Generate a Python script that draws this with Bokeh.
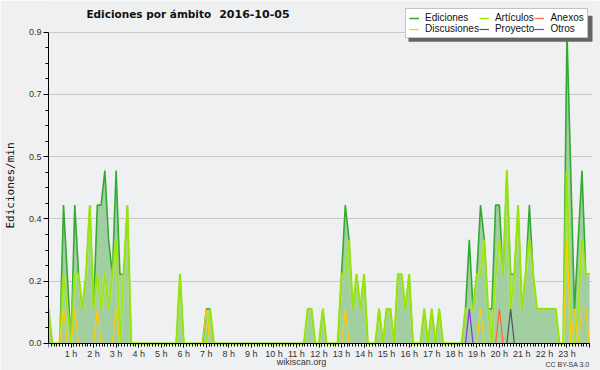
from bokeh.plotting import figure
from bokeh.models import (Range1d, FixedTicker, Legend, LegendItem, Label,
                          BoxAnnotation, ColumnDataSource)
from bokeh.embed import file_html
from bokeh.resources import INLINE

# ---------------- data (edits/min, one value per 10 minutes, 00:00 .. 24:00) ----------------
STEP_MIN = 10

ediciones = [
    0.1, 0, 0, 0, 0.4, 0.2,        # 0 h
    0, 0.4, 0.2, 0.1, 0.2, 0.4,    # 1 h
    0.1, 0.4, 0.4, 0.5, 0.3, 0.2,  # 2 h
    0.5, 0.2, 0.2, 0.4, 0, 0,      # 3 h
    0, 0, 0, 0, 0, 0,              # 4 h
    0, 0, 0, 0, 0, 0.2,            # 5 h
    0, 0, 0, 0, 0, 0,              # 6 h
    0.1, 0.1, 0, 0, 0, 0,          # 7 h
    0, 0, 0, 0, 0, 0,              # 8 h
    0, 0, 0, 0, 0, 0,              # 9 h
    0, 0, 0, 0, 0, 0,              # 10 h
    0, 0, 0, 0.1, 0.1, 0,          # 11 h
    0, 0.1, 0, 0, 0, 0,            # 12 h
    0.2, 0.4, 0.3, 0.1, 0.2, 0.1,  # 13 h
    0.2, 0, 0, 0, 0.1, 0,          # 14 h
    0.1, 0.1, 0, 0.2, 0.2, 0.1,    # 15 h
    0.2, 0, 0, 0, 0.1, 0,          # 16 h
    0.1, 0, 0.1, 0, 0, 0,          # 17 h
    0, 0, 0, 0.1, 0.3, 0.1,        # 18 h
    0.2, 0.4, 0.3, 0.1, 0.1, 0.4,  # 19 h
    0.4, 0.2, 0.5, 0.2, 0.2, 0.4,  # 20 h
    0.1, 0.2, 0.4, 0.2, 0.1, 0.1,  # 21 h
    0.1, 0.1, 0.1, 0.1, 0, 0,      # 22 h
    0.9, 0.5, 0.1, 0.3, 0.5, 0.2,  # 23 h
    0.2,
]

articulos = [
    0.1, 0, 0, 0, 0.2, 0.1,
    0, 0.2, 0.2, 0.1, 0.2, 0.4,
    0.1, 0.2, 0.1, 0.2, 0.1, 0.2,
    0.3, 0, 0.2, 0.4, 0, 0,
    0, 0, 0, 0, 0, 0,
    0, 0, 0, 0, 0, 0.2,
    0, 0, 0, 0, 0, 0,
    0, 0.1, 0, 0, 0, 0,
    0, 0, 0, 0, 0, 0,
    0, 0, 0, 0, 0, 0,
    0, 0, 0, 0, 0, 0,
    0, 0, 0, 0.1, 0.1, 0,
    0, 0.1, 0, 0, 0, 0,
    0.2, 0.2, 0.3, 0.1, 0.2, 0.1,
    0.2, 0, 0, 0, 0.1, 0,
    0.1, 0.1, 0, 0.2, 0.2, 0.1,
    0.2, 0, 0, 0, 0.1, 0,
    0.1, 0, 0.1, 0, 0, 0,
    0, 0, 0, 0.1, 0.1, 0.1,
    0.2, 0.2, 0.3, 0.1, 0, 0.2,
    0.3, 0.2, 0.5, 0.1, 0.2, 0.4,
    0.1, 0.2, 0.3, 0.2, 0.1, 0.1,
    0.1, 0.1, 0.1, 0.1, 0, 0,
    0.5, 0, 0, 0.1, 0.3, 0.2,
    0.2,
]

discusiones = [
    0, 0, 0, 0, 0.1, 0,
    0, 0.1, 0, 0, 0, 0,
    0, 0.1, 0, 0, 0, 0,
    0.1, 0, 0, 0, 0, 0,
    0, 0, 0, 0, 0, 0,
    0, 0, 0, 0, 0, 0,
    0, 0, 0, 0, 0, 0,
    0.1, 0, 0, 0, 0, 0,
    0, 0, 0, 0, 0, 0,
    0, 0, 0, 0, 0, 0,
    0, 0, 0, 0, 0, 0,
    0, 0, 0, 0, 0, 0,
    0, 0, 0, 0, 0, 0,
    0, 0.1, 0, 0, 0, 0,
    0, 0, 0, 0, 0, 0,
    0, 0, 0, 0, 0, 0,
    0, 0, 0, 0, 0, 0,
    0, 0, 0, 0, 0, 0,
    0, 0, 0, 0, 0, 0,
    0, 0.1, 0, 0, 0, 0,
    0, 0, 0, 0, 0, 0,
    0, 0, 0, 0, 0, 0,
    0, 0, 0, 0, 0, 0,
    0.3, 0, 0.1, 0, 0.1, 0.1,
    0,
]

anexos = [0] * 120 + [0.1] + [0] * 24          # single edit at 20:00
proyecto = [0] * 123 + [0.1] + [0] * 21        # single edit at 20:30
otros = [0] * 112 + [0.1] + [0] * 32           # single edit at 18:40

hours = [i * STEP_MIN / 60 for i in range(len(ediciones))]

y_ticks = [0, 0.18, 0.36, 0.54, 0.72, 0.9]
y_tick_labels = ["0.0", "0.2", "0.4", "0.5", "0.7", "0.9"]
y_minor = [0.045, 0.09, 0.135, 0.225, 0.27, 0.315, 0.405, 0.45, 0.495,
           0.585, 0.63, 0.675, 0.765, 0.81, 0.855]
x_hours = list(range(0, 25))
x_tick_labels = [""] + [f"{h} h" for h in range(1, 24)] + [""]

title_main = "Ediciones por ámbito"
title_date = "2016-10-05"
credit_site = "wikiscan.org"
credit_license = "CC BY-SA 3.0"

# ---------------- figure ----------------
FONT = "Liberation Sans"
PX_PER_UNIT = 345.6      # vertical pixels per 1 edit/min
PX_PER_HOUR = 22.583

src = ColumnDataSource(dict(t=hours, ed=ediciones, art=articulos, dis=discusiones,
                            anx=anexos, pro=proyecto, otr=otros,
                            zero=[0] * len(hours)))

p = figure(width=600, height=370, output_backend="svg", toolbar_location=None,
           x_range=Range1d(0, 24 + 3 / PX_PER_HOUR),
           y_range=Range1d(-27 / PX_PER_UNIT, 0.9 + 31.7 / PX_PER_UNIT),
           min_border_left=47, min_border_right=8, min_border_top=0,
           min_border_bottom=0)
p.background_fill_color = "#eff0f1"
p.border_fill_color = "#f0f0f0"
p.outline_line_color = None

# y axis
p.yaxis.bounds = (0, 0.9)
p.yaxis.ticker = FixedTicker(ticks=y_ticks, minor_ticks=y_minor)
p.yaxis.major_label_overrides = {t: l for t, l in zip(y_ticks, y_tick_labels)}
p.yaxis.major_label_text_font = FONT
p.yaxis.major_label_text_font_size = "9px"
p.yaxis.major_label_text_color = "#333333"
p.yaxis.major_tick_out = 5
p.yaxis.major_tick_in = 0
p.yaxis.minor_tick_out = 3
p.yaxis.minor_tick_in = 0
p.yaxis.axis_line_color = "black"
p.yaxis.major_label_standoff = 2
p.yaxis.axis_label = "Ediciones/min"
p.yaxis.axis_label_text_font = "DejaVu Sans Mono"
p.yaxis.axis_label_text_font_size = "11px"
p.yaxis.axis_label_text_font_style = "normal"
p.yaxis.axis_label_text_color = "#111111"
p.yaxis.axis_label_standoff = 9

# x axis drawn at y = 0 inside the frame
minor_x = [h + k / 8 for h in range(24) for k in range(1, 8)]
p.xaxis.fixed_location = 0
p.xaxis.bounds = (0, 24)
p.xaxis.ticker = FixedTicker(ticks=x_hours, minor_ticks=minor_x)
p.xaxis.major_label_overrides = {h: l for h, l in zip(x_hours, x_tick_labels)}
p.xaxis.major_label_text_font = FONT
p.xaxis.major_label_text_font_size = "9px"
p.xaxis.major_label_text_color = "#333333"
p.xaxis.major_tick_out = 4
p.xaxis.major_tick_in = 0
p.xaxis.minor_tick_out = 3
p.xaxis.minor_tick_in = 0
p.xaxis.major_label_standoff = 2
p.xaxis.axis_line_color = "black"

p.xgrid.grid_line_color = None
p.ygrid.ticker = FixedTicker(ticks=y_ticks[1:])
p.ygrid.grid_line_color = "#c8c8c8"
p.ygrid.grid_line_width = 1

# data
p.varea(x="t", y1="zero", y2="ed", source=src, fill_color="#a2cfa2", fill_alpha=1.0)
r_ed = p.line("t", "ed", source=src, line_color="#33aa33", line_width=1.6)
p.line("t", "art", source=src, line_color="#c8f060", line_width=3.0, line_alpha=0.5)
r_art = p.line("t", "art", source=src, line_color="#99e600", line_width=1.4)
r_dis = p.line("t", "dis", source=src, line_color="#ffcc00", line_width=1.2)
r_anx = p.line("t", "anx", source=src, line_color="#ff6633", line_width=1.2)
r_pro = p.line("t", "pro", source=src, line_color="#555555", line_width=1.2)
r_otr = p.line("t", "otr", source=src, line_color="#8833ee", line_width=1.2)

# titles / credits
p.add_layout(Label(x=(85 - 47) / PX_PER_HOUR, y=(343 - 13.5) / PX_PER_UNIT,
                   text=title_main, text_font="DejaVu Sans",
                   text_font_size="10.5px", text_font_style="bold",
                   text_baseline="middle", text_color="#111111"))
p.add_layout(Label(x=(218 - 47) / PX_PER_HOUR, y=(343 - 13.5) / PX_PER_UNIT,
                   text=title_date, text_font="DejaVu Sans",
                   text_font_size="11px", text_font_style="bold",
                   text_baseline="middle", text_color="#111111"))
p.add_layout(Label(x=(300.5 - 47) / PX_PER_HOUR, y=(343 - 361.5) / PX_PER_UNIT,
                   text=credit_site, text_font=FONT,
                   text_font_size="9px", text_baseline="middle", text_align="center",
                   text_color="#333333"))
p.add_layout(Label(x=24, y=(343 - 363.7) / PX_PER_UNIT, text=credit_license,
                   text_font=FONT, text_font_size="7px", text_baseline="middle",
                   text_align="right", text_color="#333333"))

# legend shadow + legend (screen units relative to the frame's lower-left corner)
p.add_layout(BoxAnnotation(left=360, right=545, bottom=328.7, top=354.7,
                           left_units="screen", right_units="screen",
                           bottom_units="screen", top_units="screen",
                           fill_color="#666666", fill_alpha=1.0, line_color=None,
                           level="annotation"))

# items fill the legend column by column
legend = Legend(items=[
    LegendItem(label="Ediciones", renderers=[r_ed]),
    LegendItem(label="Discusiones", renderers=[r_dis]),
    LegendItem(label="Artículos", renderers=[r_art]),
    LegendItem(label="Proyecto", renderers=[r_pro]),
    LegendItem(label="Anexos", renderers=[r_anx]),
    LegendItem(label="Otros", renderers=[r_otr]),
], ncols=3, location=(357, 331.7))
legend.label_text_font = FONT
legend.label_text_font_size = "10px"
legend.label_text_color = "#111111"
legend.label_height = 10
legend.glyph_height = 8
legend.glyph_width = 10
legend.label_standoff = 6
legend.spacing = 0
legend.padding = 3
legend.margin = 0
legend.border_line_color = "#888888"
legend.background_fill_color = "white"
legend.background_fill_alpha = 1.0
p.add_layout(legend)

open("out.html", "w").write(file_html(p, INLINE))
